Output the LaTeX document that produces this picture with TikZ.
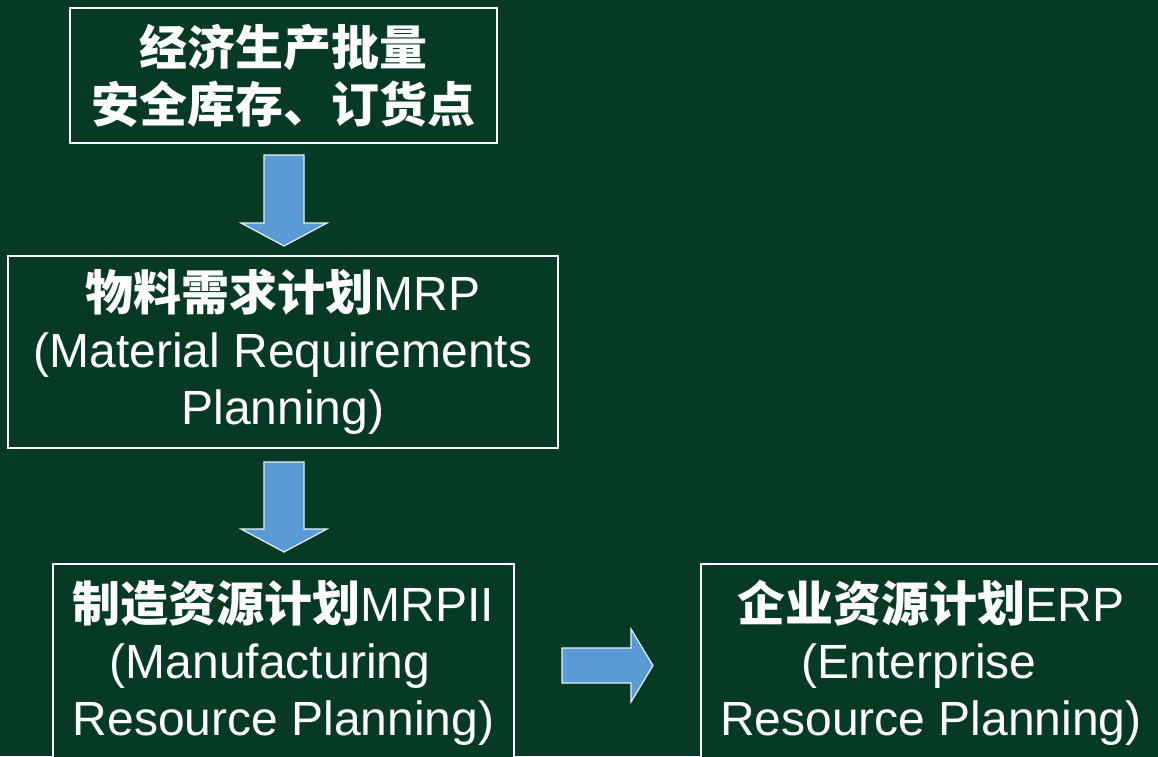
\documentclass[tikz,border=0pt]{standalone}
\usepackage{fontspec}
\setmainfont{Liberation Sans}
\newfontfamily\cjk{Noto Sans CJK SC}
\definecolor{bg}{RGB}{7,58,36}
\definecolor{arrowblue}{RGB}{91,155,213}
\newcommand{\zh}[1]{{\cjk\bfseries #1}}
\newcommand{\trail}[1]{\hbox to #1{\hfil}}
\begin{document}
\begin{tikzpicture}[x=1pt,y=-1pt,
  box/.style={draw=white, line width=1.8pt, fill=bg, text=white, align=center,
    inner sep=0pt, font=\fontsize{48}{57}\selectfont},
  blockarrow/.style={fill=arrowblue, draw=white!85!arrowblue, line width=1.2pt, line join=miter}]
\fill[bg] (0,0) rectangle (1158,756);
\useasboundingbox (0,0) rectangle (1158,756);
\node[box, minimum width=427pt, minimum height=135pt] (econ) at (283.5,75.5)
  {\zh{经济生产批量}\\\zh{安全库存、订货点}};
\node[box, minimum width=550pt, minimum height=192pt] (mrp) at (283,352)
  {\zh{物料需求计划}MRP\\(Material Requirements\\Planning)};
\node[box, minimum width=461pt, minimum height=197pt] (mrpii) at (283.5,662.5)
  {\zh{制造资源计划}MRPII\\(Manufacturing\trail{27pt}\\Resource Planning)};
\node[box, minimum width=460pt, minimum height=197pt] (erp) at (931,662.5)
  {\zh{企业资源计划}ERP\\(Enterprise\trail{24pt}\\Resource Planning)};
% down arrow 1
\draw[blockarrow] (264,155) -- (304,155) -- (304,223) -- (327,223) -- (284,246)
  -- (241,223) -- (264,223) -- cycle;
% down arrow 2
\draw[blockarrow] (264,462) -- (304,462) -- (304,529) -- (327,529) -- (284,552)
  -- (241,529) -- (264,529) -- cycle;
% right arrow
\draw[blockarrow] (562,648) -- (631,648) -- (631,629) -- (653,665.5) -- (631,702)
  -- (631,683) -- (562,683) -- cycle;
\end{tikzpicture}
\end{document}
